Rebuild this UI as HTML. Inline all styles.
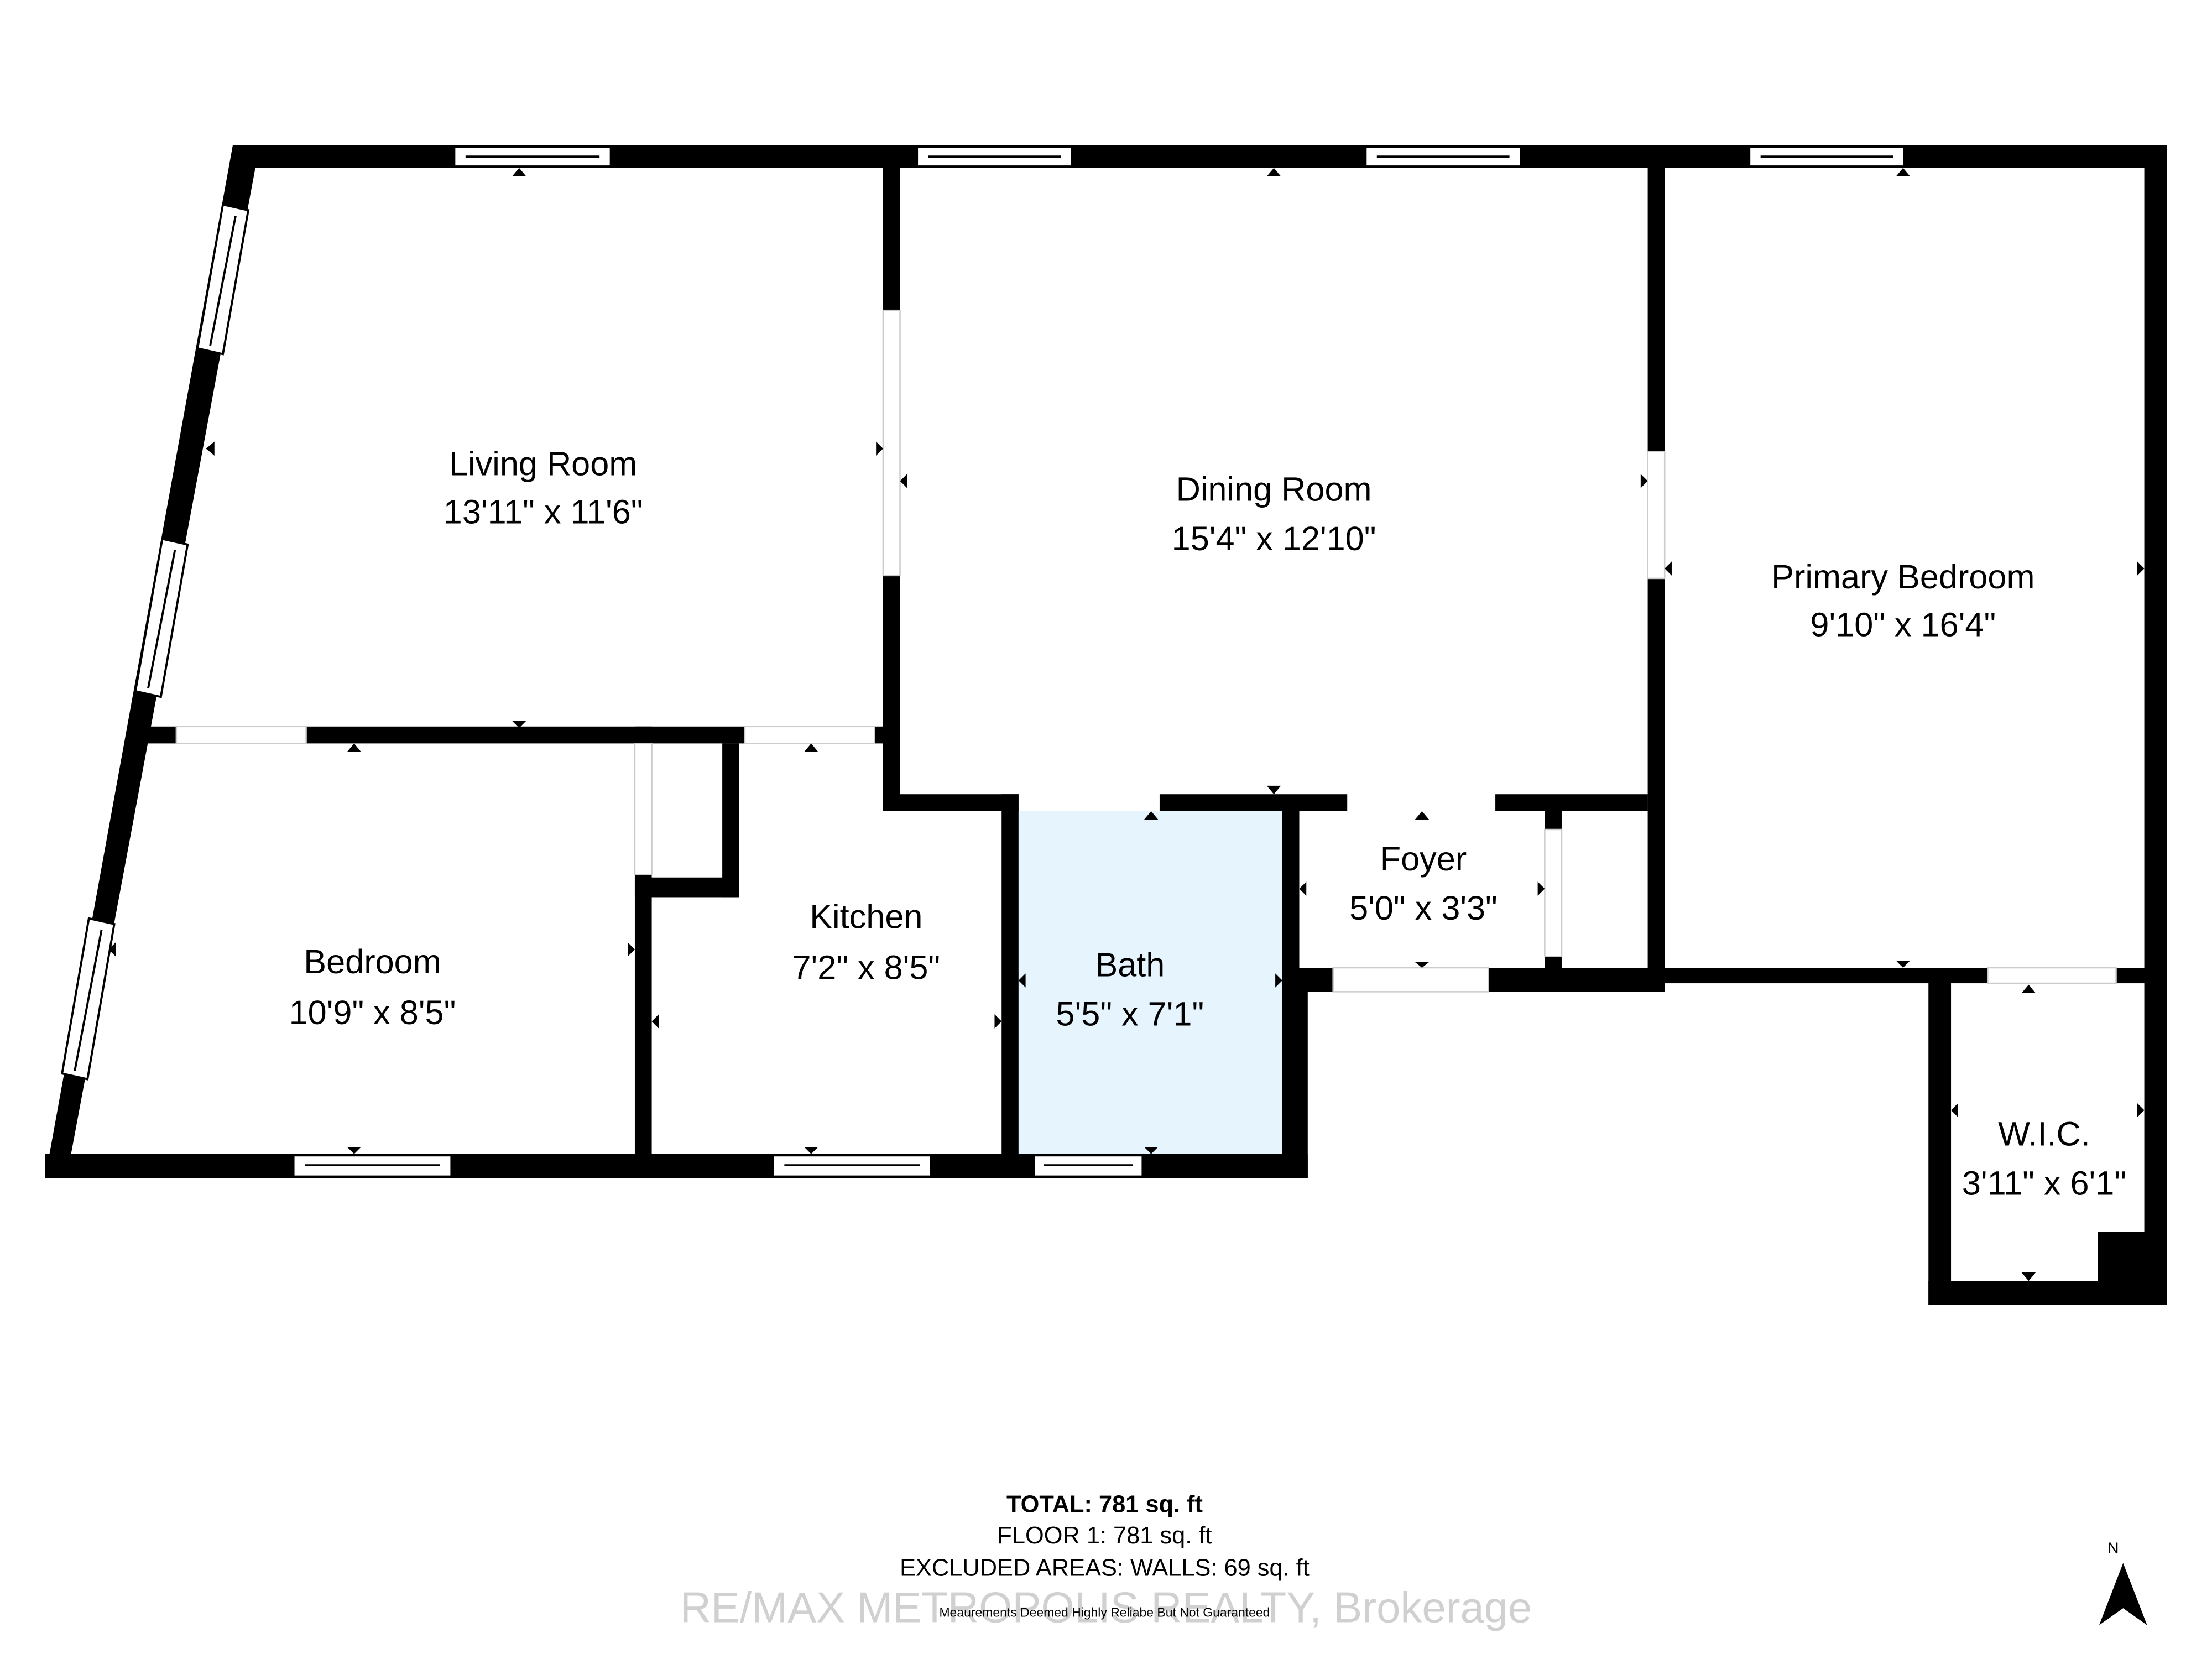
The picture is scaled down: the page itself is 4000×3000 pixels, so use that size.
<!DOCTYPE html>
<html><head><meta charset="utf-8"><style>
html,body{margin:0;padding:0;background:#fff;}
svg{display:block;}
text{font-family:"Liberation Sans",sans-serif;}
</style></head><body>
<svg width="4000" height="3000" viewBox="0 0 1568 1176" xmlns="http://www.w3.org/2000/svg">
<rect width="1568" height="1176" fill="#fff"/>
<rect x="722" y="575" width="187" height="243" fill="#e6f4fd"/>
<g fill="#000">
<polygon points="165,103 181,103 181,119 50,820 32,835"/>
<polygon points="165,103 1536,103 1536,119 181,119"/>
<rect x="1520" y="103" width="16" height="822"/>
<rect x="1367" y="686" width="16" height="239"/>
<rect x="1367" y="908" width="169" height="17"/>
<rect x="1487" y="873" width="40" height="40"/>
<rect x="1168" y="686" width="241" height="11"/>
<rect x="1500" y="686" width="22" height="11"/>
<rect x="1168" y="119" width="12" height="201"/>
<rect x="1168" y="410" width="12" height="280"/>
<rect x="626" y="119" width="12" height="101"/>
<rect x="626" y="408" width="12" height="167"/>
<rect x="32" y="818" width="895" height="17"/>
<rect x="909" y="565" width="12" height="270"/>
<rect x="909" y="686" width="18" height="149"/>
<rect x="920" y="686" width="25" height="17"/>
<rect x="1055" y="686" width="125" height="17"/>
<rect x="626" y="563" width="96" height="12"/>
<rect x="822" y="563" width="133" height="12"/>
<rect x="1060" y="563" width="108" height="12"/>
<rect x="710" y="563" width="12" height="272"/>
<rect x="105" y="515" width="20" height="12"/>
<rect x="217" y="515" width="311" height="12"/>
<rect x="620" y="515" width="18" height="12"/>
<rect x="450" y="620" width="12" height="198"/>
<rect x="450" y="515" width="12" height="12"/>
<rect x="512" y="527" width="12" height="109"/>
<rect x="450" y="622" width="74" height="14"/>
<rect x="1095" y="575" width="12" height="13"/>
<rect x="1095" y="678" width="12" height="25"/>
</g>
<g fill="none" stroke="#ccc" stroke-width="1">
<rect x="125" y="515" width="92" height="12"/>
<rect x="528" y="515" width="92" height="12"/>
<rect x="626" y="220" width="12" height="188"/>
<rect x="1168" y="320" width="12" height="90"/>
<rect x="1409" y="686" width="91" height="11"/>
<rect x="945" y="686" width="110" height="17"/>
<rect x="450" y="527" width="12" height="93"/>
<rect x="1095" y="588" width="12" height="90"/>
</g>
<g fill="#fff" stroke="#000" stroke-width="1.5">
<rect x="322" y="104" width="111" height="14"/><line x1="330" y1="111" x2="425" y2="111"/>
<rect x="650" y="104" width="110" height="14"/><line x1="658" y1="111" x2="752" y2="111"/>
<rect x="968" y="104" width="110" height="14"/><line x1="976" y1="111" x2="1070" y2="111"/>
<rect x="1240" y="104" width="110" height="14"/><line x1="1248" y1="111" x2="1342" y2="111"/>
<rect x="208" y="819" width="112" height="15"/><line x1="216" y1="826" x2="312" y2="826"/>
<rect x="548" y="819" width="112" height="15"/><line x1="556" y1="826" x2="652" y2="826"/>
<rect x="733" y="819" width="77" height="15"/><line x1="740" y1="826" x2="803" y2="826"/>
<polygon points="158,145 176,149 158,251 140,247"/><line x1="167" y1="153" x2="149" y2="245"/>
<polygon points="115,382 133,386 114,494 96,490"/><line x1="124" y1="390" x2="105" y2="488"/>
<polygon points="63,651 81,655 62,765 44,761"/><line x1="72" y1="659" x2="53" y2="759"/>
</g>
<g fill="#000">
<polygon points="363,125 373,125 368,119"/>
<polygon points="898,125 908,125 903,119"/>
<polygon points="1344,125 1354,125 1349,119"/>
<polygon points="363,511 373,511 368,516"/>
<polygon points="246,533 256,533 251,527"/>
<polygon points="570,533 580,533 575,527"/>
<polygon points="898,557 908,557 903,563"/>
<polygon points="811,581 821,581 816,575"/>
<polygon points="1003,581 1013,581 1008,575"/>
<polygon points="1003,682 1013,682 1008,686"/>
<polygon points="1344,681 1354,681 1349,686"/>
<polygon points="1433,704 1443,704 1438,698"/>
<polygon points="1433,902 1443,902 1438,908"/>
<polygon points="246,813 256,813 251,818"/>
<polygon points="570,813 580,813 575,818"/>
<polygon points="811,813 821,813 816,818"/>
<polygon points="621,313 621,323 626,318"/>
<polygon points="643,336 643,346 638,341"/>
<polygon points="1163,336 1163,346 1168,341"/>
<polygon points="1185,398 1185,408 1180,403"/>
<polygon points="1515,398 1515,408 1520,403"/>
<polygon points="152,313 152,323 146,318"/>
<polygon points="445,668 445,678 450,673"/>
<polygon points="82,668 82,678 77,673"/>
<polygon points="467,719 467,729 462,724"/>
<polygon points="705,719 705,729 710,724"/>
<polygon points="727,690 727,700 722,695"/>
<polygon points="904,690 904,700 909,695"/>
<polygon points="926,625 926,635 921,630"/>
<polygon points="1090,625 1090,635 1095,630"/>
<polygon points="1388,782 1388,792 1383,787"/>
<polygon points="1515,782 1515,792 1520,787"/>
</g>
<g font-size="24" text-anchor="middle" fill="#000">
<text x="385" y="337">Living Room</text><text x="385" y="371">13'11" x 11'6"</text>
<text x="903" y="355">Dining Room</text><text x="903" y="390">15'4" x 12'10"</text>
<text x="1349" y="417">Primary Bedroom</text><text x="1349" y="451">9'10" x 16'4"</text>
<text x="264" y="690">Bedroom</text><text x="264" y="726">10'9" x 8'5"</text>
<text x="614" y="658">Kitchen</text><text x="614" y="694">7'2" x 8'5"</text>
<text x="801" y="692">Bath</text><text x="801" y="727">5'5" x 7'1"</text>
<text x="1009" y="617">Foyer</text><text x="1009" y="652">5'0" x 3'3"</text>
<text x="1449" y="812">W.I.C.</text><text x="1449" y="847">3'11" x 6'1"</text>
</g>
<g text-anchor="middle">
<text x="783" y="1072" font-size="17" font-weight="bold">TOTAL: 781 sq. ft</text>
<text x="783" y="1094" font-size="17">FLOOR 1: 781 sq. ft</text>
<text x="783" y="1117" font-size="17">EXCLUDED AREAS: WALLS: 69 sq. ft</text>
<text x="784" y="1150" font-size="30.5" fill="#d0d0d0">RE/MAX METROPOLIS REALTY, Brokerage</text>
<text x="783" y="1146" font-size="9" fill="#000">Meaurements Deemed Highly Reliabe But Not Guaranteed</text>
<text x="1498" y="1101" font-size="11">N</text>
</g>
<polygon points="1505,1108 1488,1152 1505,1140 1522,1152" fill="#000"/>
</svg>
</body></html>
